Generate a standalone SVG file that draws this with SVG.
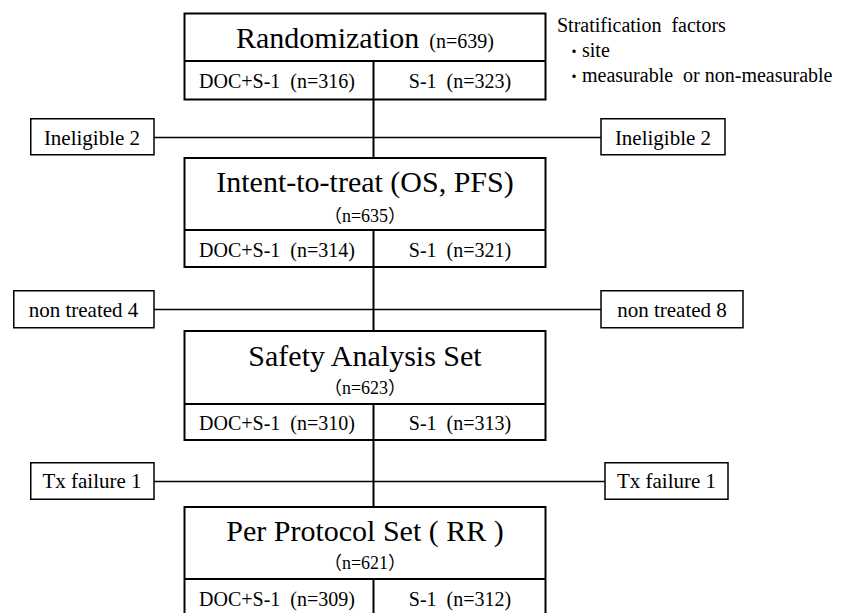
<svg xmlns="http://www.w3.org/2000/svg" width="852" height="613" viewBox="0 0 852 613">
<style>
text{font-family:"Liberation Serif","Times New Roman",Tinos,"DejaVu Serif",serif;fill:#000;white-space:pre}
.main{fill:#fff;stroke:#000;stroke-width:2}
.side{fill:#fff;stroke:#000;stroke-width:1.5}
.div{stroke:#000;stroke-width:2}
.title{font-size:30px;text-anchor:middle}
.sub{font-size:18px;text-anchor:middle}
.row{font-size:20px;text-anchor:middle}
.lbl{font-size:21px;text-anchor:middle}
.note{font-size:20px}
.cjk{font-family:"Noto Sans CJK JP",sans-serif}
.bul{font-size:16px}
.conn line{stroke:#000}
</style>
<rect width="852" height="613" fill="#fff"/>
<g id="connectors" class="conn">
<line x1="373.5" y1="99" x2="373.5" y2="158" stroke-width="2"/>
<line x1="373.5" y1="267" x2="373.5" y2="331" stroke-width="2"/>
<line x1="373.5" y1="440" x2="373.5" y2="507" stroke-width="2"/>
<line x1="154" y1="137.5" x2="601" y2="137.5" stroke-width="1.5"/>
<line x1="154" y1="309.5" x2="601" y2="309.5" stroke-width="1.5"/>
<line x1="154" y1="481.5" x2="605" y2="481.5" stroke-width="1.5"/>
</g>
<g id="randomization">
<rect class="main" x="184.5" y="13.5" width="361" height="86"/>
<line class="div" x1="184.5" y1="61" x2="545.5" y2="61"/>
<line class="div" x1="373.5" y1="61" x2="373.5" y2="99.5"/>
<text class="title" x="365" y="47.5">Randomization<tspan font-size="20">  (n=639)</tspan></text>
<text class="row" x="277" y="87.5">DOC+S-1  (n=316)</text>
<text class="row" x="460" y="87.5">S-1  (n=323)</text>
</g>
<g id="stratification">
<text class="note" x="557" y="32">Stratification  factors</text>
<text class="note" x="566" y="57"><tspan class="cjk bul">・</tspan>site</text>
<text class="note" x="566" y="82"><tspan class="cjk bul">・</tspan>measurable  or non-measurable</text>
</g>
<g id="inelig-left">
<rect class="side" x="30.75" y="118.75" width="123.25" height="36"/>
<text class="lbl" x="92" y="145">Ineligible 2</text>
</g>
<g id="inelig-right">
<rect class="side" x="601" y="118.75" width="124" height="36"/>
<text class="lbl" x="663" y="145">Ineligible 2</text>
</g>
<g id="itt">
<rect class="main" x="184.5" y="158" width="361" height="109"/>
<line class="div" x1="184.5" y1="230" x2="545.5" y2="230"/>
<line class="div" x1="373.5" y1="230" x2="373.5" y2="267"/>
<text class="title" x="365" y="192">Intent-to-treat (OS, PFS)</text>
<text class="sub" x="365" y="222"><tspan class="cjk">（</tspan>n=635<tspan class="cjk">）</tspan></text>
<text class="row" x="277" y="257">DOC+S-1  (n=314)</text>
<text class="row" x="460" y="257">S-1  (n=321)</text>
</g>
<g id="nontreated-left">
<rect class="side" x="13.75" y="290.75" width="140.25" height="37"/>
<text class="lbl" x="83.5" y="317">non treated 4</text>
</g>
<g id="nontreated-right">
<rect class="side" x="601" y="290.75" width="142" height="37"/>
<text class="lbl" x="672" y="317">non treated 8</text>
</g>
<g id="safety">
<rect class="main" x="184.5" y="331" width="361" height="109"/>
<line class="div" x1="184.5" y1="404" x2="545.5" y2="404"/>
<line class="div" x1="373.5" y1="404" x2="373.5" y2="440"/>
<text class="title" x="365" y="366">Safety Analysis Set</text>
<text class="sub" x="365" y="394"><tspan class="cjk">（</tspan>n=623<tspan class="cjk">）</tspan></text>
<text class="row" x="277" y="430">DOC+S-1  (n=310)</text>
<text class="row" x="460" y="430">S-1  (n=313)</text>
</g>
<g id="txfail-left">
<rect class="side" x="30.75" y="462.75" width="123.25" height="36.5"/>
<text class="lbl" x="92" y="488" font-size="20">Tx failure 1</text>
</g>
<g id="txfail-right">
<rect class="side" x="605" y="462.75" width="123" height="36.5"/>
<text class="lbl" x="666.5" y="488" font-size="20">Tx failure 1</text>
</g>
<g id="per-protocol">
<rect class="main" x="184.5" y="507" width="361" height="110"/>
<line class="div" x1="184.5" y1="579" x2="545.5" y2="579"/>
<line class="div" x1="373.5" y1="579" x2="373.5" y2="617"/>
<text class="title" x="365" y="541">Per Protocol Set ( RR )</text>
<text class="sub" x="365" y="569"><tspan class="cjk">（</tspan>n=621<tspan class="cjk">）</tspan></text>
<text class="row" x="277" y="606">DOC+S-1  (n=309)</text>
<text class="row" x="460" y="606">S-1  (n=312)</text>
</g>
</svg>
